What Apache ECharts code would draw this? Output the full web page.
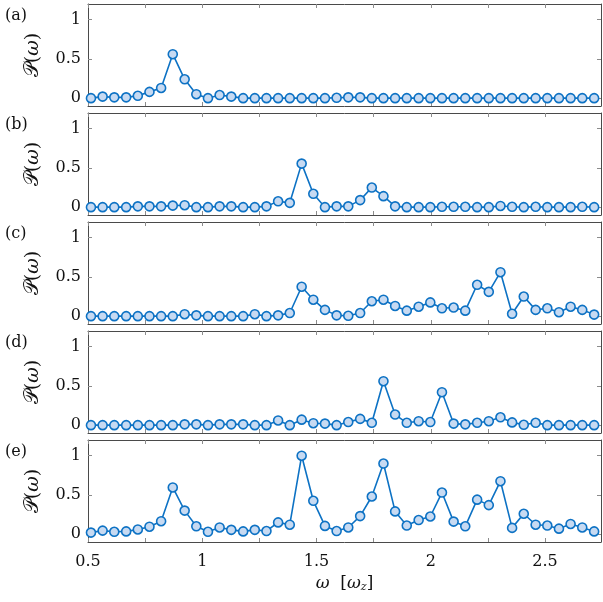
<!DOCTYPE html>
<html>
<head>
<meta charset="utf-8">
<script src="https://cdn.jsdelivr.net/npm/echarts@6/dist/echarts.min.js"></script>
<style>
  html, body { margin: 0; padding: 0; background: #fff; }
  #chart { width: 603px; height: 602px; }
</style>
</head>
<body>
<div id="chart"></div>
<script>
// frequencies (in units of omega_z)
var omega = [0.513, 0.564, 0.615, 0.667, 0.718, 0.769, 0.820, 0.871, 0.923, 0.974,
  1.025, 1.076, 1.127, 1.179, 1.230, 1.281, 1.332, 1.383, 1.435, 1.486,
  1.537, 1.588, 1.639, 1.691, 1.742, 1.793, 1.844, 1.895, 1.947, 1.998,
  2.049, 2.100, 2.151, 2.203, 2.254, 2.305, 2.356, 2.407, 2.459, 2.510,
  2.561, 2.612, 2.663, 2.715];

var powerA = [0, 0.02, 0.01, 0.01, 0.03, 0.08, 0.13, 0.56, 0.24, 0.05,
  0, 0.04, 0.02, 0, 0, 0, 0, 0, 0, 0,
  0, 0.005, 0.01, 0.01, 0, 0, 0, 0, 0, 0,
  0, 0, 0, 0, 0, 0, 0, 0, 0, 0,
  0, 0, 0, 0];
var powerB = [0, 0, 0, 0, 0.01, 0.01, 0.01, 0.02, 0.025, 0,
  0, 0.01, 0.01, 0, 0, 0.01, 0.075, 0.055, 0.555, 0.17,
  0, 0.01, 0.01, 0.09, 0.25, 0.14, 0.01, 0, 0, 0,
  0.005, 0.005, 0.005, 0, 0, 0.015, 0.005, 0, 0.005, 0,
  0, 0, 0.005, 0];
var powerC = [0, 0, 0, 0, 0, 0, 0, 0, 0.025, 0.01,
  0, 0, 0, 0, 0.025, 0, 0.01, 0.04, 0.375, 0.21,
  0.08, 0.01, 0.005, 0.04, 0.19, 0.21, 0.13, 0.07, 0.12, 0.175,
  0.10, 0.11, 0.07, 0.40, 0.31, 0.56, 0.03, 0.25, 0.08, 0.10,
  0.05, 0.12, 0.08, 0.02];
var powerD = [0, 0, 0, 0, 0, 0, 0, 0, 0.01, 0.01,
  0, 0.01, 0.01, 0.01, 0, 0, 0.06, 0, 0.07, 0.025,
  0.02, 0, 0.04, 0.08, 0.03, 0.56, 0.135, 0.03, 0.05, 0.04,
  0.42, 0.02, 0.01, 0.03, 0.05, 0.10, 0.035, 0.005, 0.03, 0,
  0, 0, 0, 0];
var powerE = [0.02, 0.045, 0.03, 0.035, 0.06, 0.095, 0.165, 0.595, 0.30, 0.10,
  0.03, 0.085, 0.055, 0.035, 0.055, 0.04, 0.15, 0.12, 1.0, 0.425,
  0.105, 0.04, 0.085, 0.23, 0.48, 0.90, 0.29, 0.11, 0.18, 0.225,
  0.53, 0.16, 0.10, 0.44, 0.37, 0.675, 0.08, 0.26, 0.12, 0.11,
  0.07, 0.13, 0.085, 0.035];

var panels = [powerA, powerB, powerC, powerD, powerE];
var panelLabels = ['(a)', '(b)', '(c)', '(d)', '(e)'];
var xTicks = [0.5, 0.75, 1, 1.25, 1.5, 1.75, 2, 2.25, 2.5];
var xLabels = [0.5, 1, 1.5, 2, 2.5];
var yTicks = [0, 0.5, 1];

var FONT = 'DejaVu Serif';
var lineBlue = '#0d72c4';
var fillBlue = '#c7daf2';
var frame = '#4a4a4a';
var tickCol = '#8c8c8c';
var ink = '#111';

var chart = echarts.init(document.getElementById('chart'));

var grids = [], xAxes = [], yAxes = [], series = [], graphics = [];
var tops = [4, 113, 222, 331, 440];
var H = 102;

function fmt(v) { return String(v); }

panels.forEach(function (vals, i) {
  var last = i === panels.length - 1;
  grids.push({ left: 88, right: 2, top: tops[i], height: H });

  // bottom x axis
  xAxes.push({
    type: 'value', gridIndex: i, min: 0.5, max: 2.745, position: 'bottom',
    axisLine: { onZero: false, lineStyle: { color: frame, width: 1 } },
    axisTick: { inside: true, length: 4, customValues: xTicks, lineStyle: { color: tickCol } },
    axisLabel: {
      show: last, customValues: xLabels, formatter: fmt, margin: 12,
      fontFamily: FONT, fontSize: 16, color: ink
    },
    splitLine: { show: false },
    name: last ? '{i|ω}  [{i|ω}{s|z}]' : '',
    nameLocation: 'middle', nameGap: 32,
    nameTextStyle: {
      fontFamily: FONT, fontSize: 17, color: ink,
      rich: {
        i: { fontFamily: FONT, fontStyle: 'italic', fontSize: 17, color: ink },
        s: { fontFamily: FONT, fontStyle: 'italic', fontSize: 11, color: ink, verticalAlign: 'bottom', padding: [8, 0, 0, 0] }
      }
    }
  });
  // top x axis (frame + ticks)
  xAxes.push({
    type: 'value', gridIndex: i, min: 0.5, max: 2.745, position: 'top',
    axisLine: { onZero: false, lineStyle: { color: frame, width: 1 } },
    axisTick: { inside: true, length: 4, customValues: xTicks, lineStyle: { color: tickCol } },
    axisLabel: { show: false },
    splitLine: { show: false }
  });
  // left y axis
  yAxes.push({
    type: 'value', gridIndex: i, min: -0.1, max: 1.2, position: 'left',
    axisLine: { onZero: false, lineStyle: { color: frame, width: 1 } },
    axisTick: { inside: true, length: 4, customValues: yTicks, lineStyle: { color: tickCol } },
    axisLabel: {
      customValues: yTicks, formatter: fmt, margin: 7,
      fontFamily: FONT, fontSize: 16, color: ink
    },
    splitLine: { show: false },
    name: '{p|𝒫}({i|ω})', nameLocation: 'middle', nameGap: 45, nameRotate: 90,
    nameTextStyle: {
      fontFamily: FONT, fontSize: 19, color: ink,
      rich: {
        p: { fontFamily: FONT, fontSize: 20, color: ink },
        i: { fontFamily: FONT, fontStyle: 'italic', fontSize: 19, color: ink }
      }
    }
  });
  // right y axis
  yAxes.push({
    type: 'value', gridIndex: i, min: -0.1, max: 1.2, position: 'right',
    axisLine: { onZero: false, lineStyle: { color: frame, width: 1 } },
    axisTick: { inside: true, length: 4, customValues: yTicks, lineStyle: { color: tickCol } },
    axisLabel: { show: false },
    splitLine: { show: false }
  });

  series.push({
    type: 'line',
    xAxisIndex: 2 * i,
    yAxisIndex: 2 * i,
    data: omega.map(function (w, k) { return [w, vals[k]]; }),
    symbol: 'circle',
    symbolSize: 9,
    showAllSymbol: true,
    lineStyle: { color: lineBlue, width: 1.6 },
    itemStyle: { color: fillBlue, borderColor: lineBlue, borderWidth: 1.6 },
    animation: false,
    z: 3
  });

  graphics.push({
    type: 'text', left: 5, top: tops[i] + 4,
    style: { text: panelLabels[i], font: '16px "' + FONT + '"', fill: ink }
  });
});

chart.setOption({
  animation: false,
  backgroundColor: '#fff',
  grid: grids,
  xAxis: xAxes,
  yAxis: yAxes,
  series: series,
  graphic: graphics
});
</script>
</body>
</html>
